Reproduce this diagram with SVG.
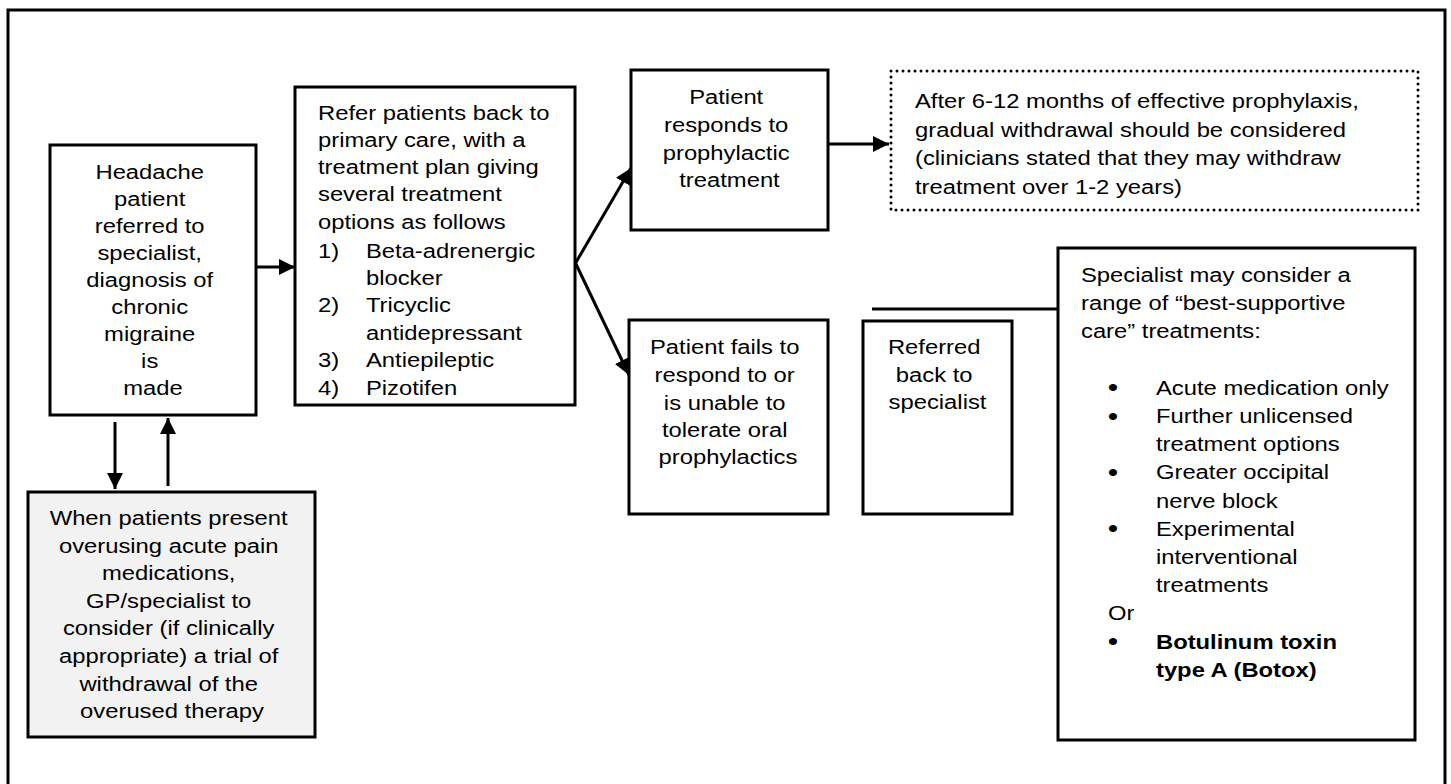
<svg xmlns="http://www.w3.org/2000/svg" width="1451" height="784" viewBox="0 0 1451 784">
<defs>
<style>
.box{fill:#fff;stroke:#000;stroke-width:3}
.gray{fill:#f2f2f2;stroke:#000;stroke-width:3}
.dot{fill:#fff;stroke:#000;stroke-width:3;stroke-dasharray:0 6;stroke-linecap:round}
.t{font-family:"Liberation Sans",Arial,sans-serif;font-size:20px;fill:#000}
.c{text-anchor:middle}
.b{font-weight:bold}
.bu{font-size:25px;text-anchor:middle}
.ln{stroke:#000;stroke-width:3;fill:none}
</style>
<marker id="ah" markerUnits="userSpaceOnUse" markerWidth="16" markerHeight="16" viewBox="0 0 15 15" refX="15" refY="7.5" orient="auto">
<path d="M0,0 L15,7.5 L0,15 z" fill="#000"/>
</marker>
</defs>
<rect x="8" y="10" width="1437" height="800" fill="none" stroke="#000" stroke-width="3"/>

<g id="connectors">
<line class="ln" x1="256" y1="267" x2="295" y2="267" marker-end="url(#ah)"/>
<line class="ln" x1="115" y1="422" x2="115" y2="489" marker-end="url(#ah)"/>
<line class="ln" x1="168" y1="486" x2="168" y2="418" marker-end="url(#ah)"/>
<line class="ln" x1="575" y1="264" x2="631" y2="168" marker-end="url(#ah)"/>
<line class="ln" x1="575" y1="262" x2="629" y2="375" marker-end="url(#ah)"/>
<line class="ln" x1="828" y1="144" x2="889" y2="144" marker-end="url(#ah)"/>
<line class="ln" x1="872" y1="309" x2="1058" y2="309"/>
</g>

<g id="headache">
<rect class="box" x="50" y="145" width="206" height="270"/>
<text class="t c" transform="translate(153,0) scale(1.19,1)">
<tspan x="0" y="179">Headache</tspan>
<tspan x="0" y="206">patient</tspan>
<tspan x="0" y="233">referred to</tspan>
<tspan x="0" y="260">specialist,</tspan>
<tspan x="0" y="287">diagnosis of</tspan>
<tspan x="0" y="314">chronic</tspan>
<tspan x="0" y="341">migraine</tspan>
<tspan x="0" y="368">is</tspan>
<tspan x="0" y="395">made</tspan>
</text>
</g>

<g id="withdrawal">
<rect class="gray" x="28" y="492" width="287" height="245"/>
<text class="t c" transform="translate(172,0) scale(1.19,1)">
<tspan x="0" y="525">When patients present</tspan>
<tspan x="0" y="552.6">overusing acute pain</tspan>
<tspan x="0" y="580.2">medications,</tspan>
<tspan x="0" y="607.8">GP/specialist to</tspan>
<tspan x="0" y="635.4">consider (if clinically</tspan>
<tspan x="0" y="663">appropriate) a trial of</tspan>
<tspan x="0" y="690.6">withdrawal of the</tspan>
<tspan x="0" y="718.2">overused therapy</tspan>
</text>
</g>

<g id="refer">
<rect class="box" x="295" y="87" width="280" height="318"/>
<text class="t" transform="translate(318,0) scale(1.19,1)">
<tspan x="0" y="120">Refer patients back to</tspan>
<tspan x="0" y="147">primary care, with a</tspan>
<tspan x="0" y="174">treatment plan giving</tspan>
<tspan x="0" y="201">several treatment</tspan>
<tspan x="0" y="229">options as follows</tspan>
<tspan x="0" y="258">1)</tspan><tspan x="40.3" y="258">Beta-adrenergic</tspan>
<tspan x="40.3" y="285">blocker</tspan>
<tspan x="0" y="312">2)</tspan><tspan x="40.3" y="312">Tricyclic</tspan>
<tspan x="40.3" y="340">antidepressant</tspan>
<tspan x="0" y="367">3)</tspan><tspan x="40.3" y="367">Antiepileptic</tspan>
<tspan x="0" y="395">4)</tspan><tspan x="40.3" y="395">Pizotifen</tspan>
</text>
</g>

<g id="responds">
<rect class="box" x="631" y="70" width="197" height="160"/>
<text class="t c" transform="translate(729.5,0) scale(1.19,1)">
<tspan x="0" y="104">Patient</tspan>
<tspan x="0" y="132">responds to</tspan>
<tspan x="0" y="160">prophylactic</tspan>
<tspan x="0" y="187">treatment</tspan>
</text>
</g>

<g id="after">
<rect class="dot" x="891" y="71" width="527" height="139"/>
<text class="t" transform="translate(915,0) scale(1.19,1)">
<tspan x="0" y="108">After 6-12 months of effective prophylaxis,</tspan>
<tspan x="0" y="137">gradual withdrawal should be considered</tspan>
<tspan x="0" y="165">(clinicians stated that they may withdraw</tspan>
<tspan x="0" y="194">treatment over 1-2 years)</tspan>
</text>
</g>

<g id="fails">
<rect class="box" x="629" y="320" width="199" height="194"/>
<text class="t c" transform="translate(728,0) scale(1.19,1)">
<tspan x="0" y="354">Patient fails to</tspan>
<tspan x="0" y="382">respond to or</tspan>
<tspan x="0" y="410">is unable to</tspan>
<tspan x="0" y="437">tolerate oral</tspan>
<tspan x="0" y="464">prophylactics</tspan>
</text>
</g>

<g id="referred">
<rect class="box" x="863" y="321" width="149" height="193"/>
<text class="t c" transform="translate(937.5,0) scale(1.19,1)">
<tspan x="0" y="354">Referred</tspan>
<tspan x="0" y="382">back to</tspan>
<tspan x="0" y="409">specialist</tspan>
</text>
</g>

<g id="specialist">
<rect class="box" x="1058" y="248" width="357" height="492"/>
<text class="t" transform="translate(1081,0) scale(1.19,1)">
<tspan x="0" y="282">Specialist may consider a</tspan>
<tspan x="0" y="310.2">range of “best-supportive</tspan>
<tspan x="0" y="338.4">care” treatments:</tspan>
<tspan class="bu" x="26.9" y="396.5">•</tspan><tspan x="63" y="394.8">Acute medication only</tspan>
<tspan class="bu" x="26.9" y="424.7">•</tspan><tspan x="63" y="423">Further unlicensed</tspan>
<tspan x="63" y="451.2">treatment options</tspan>
<tspan class="bu" x="26.9" y="481.1">•</tspan><tspan x="63" y="479.4">Greater occipital</tspan>
<tspan x="63" y="507.6">nerve block</tspan>
<tspan class="bu" x="26.9" y="537.5">•</tspan><tspan x="63" y="535.8">Experimental</tspan>
<tspan x="63" y="564">interventional</tspan>
<tspan x="63" y="592.2">treatments</tspan>
<tspan x="22.7" y="620.4">Or</tspan>
<tspan class="bu" x="26.9" y="650.3">•</tspan><tspan x="63" y="648.6" class="b">Botulinum toxin</tspan>
<tspan x="63" y="676.8" class="b">type A (Botox)</tspan>
</text>
</g>
</svg>
